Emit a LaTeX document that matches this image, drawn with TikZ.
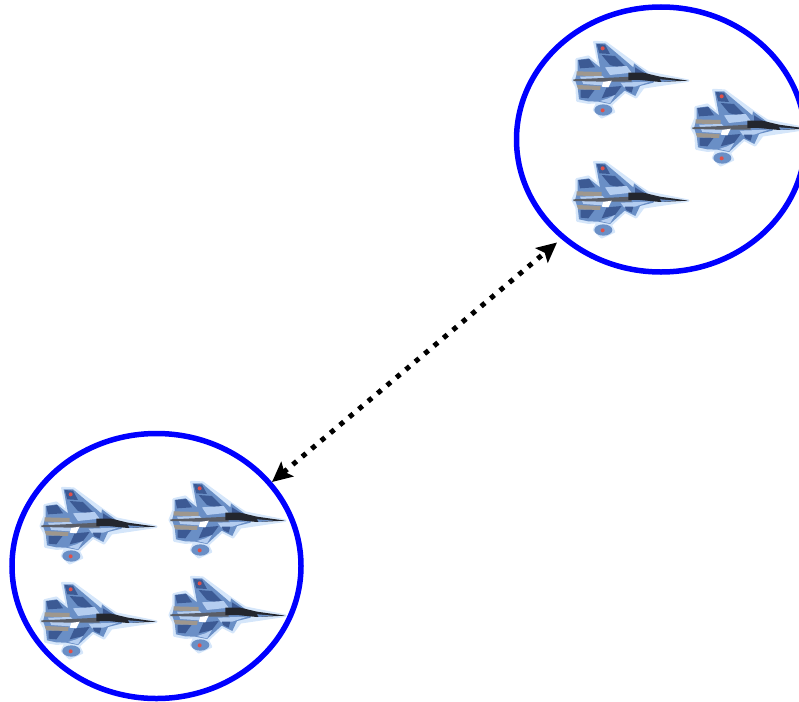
\documentclass[tikz,border=0pt]{standalone}
\usetikzlibrary{shapes.geometric,arrows.meta,calc}
\definecolor{halo}{HTML}{D5E6FA}
\definecolor{midb}{HTML}{6A8FC6}
\definecolor{darkb}{HTML}{3C5A94}
\definecolor{lightb}{HTML}{B4CDF0}
\definecolor{jet}{HTML}{23262E}
\definecolor{gry}{HTML}{5A5E68}
\definecolor{tan1}{HTML}{9E978E}
\definecolor{redd}{HTML}{E0504A}
\tikzset{
 group/.style={draw=blue,line width=5.5pt,ellipse,minimum width=289pt,minimum height=265pt,inner sep=0pt,outer sep=0pt},
 link/.style={line width=5pt,dash pattern=on 5pt off 7.3pt,{Stealth[length=20pt,width=19pt,inset=4pt]}-{Stealth[length=20pt,width=19pt,inset=4pt]}},
 plane/.pic={
  \begin{scope}[x=0.3333pt,y=-0.3333pt,line join=round]
   % halo
   \fill[halo,draw=halo,line width=2.5pt] (103,36)--(137,38)--(222,100)--(265,128)--(385,152)--(250,172)--(228,202)--(195,185)--(152,225)--(162,245)--(125,262)--(102,240)--(113,216)--(85,218)--(52,212)--(50,172)--(38,150)--(50,120)--(50,88)--(85,80)--(118,108)--cycle;
   % main body
   \fill[midb] (107,40)--(135,40)--(220,112)--(222,100)--(262,130)--(290,145)--(280,158)--(240,168)--(226,198)--(194,182)--(150,222)--(115,215)--(85,214)--(57,208)--(53,172)--(45,150)--(53,122)--(53,90)--(86,85)--(120,112)--cycle;
   \fill[midb] (130,240) ellipse (27 and 17);
   % camouflage
   \fill[darkb] (110,42)--(135,44)--(150,72)--(118,70)--cycle;
   \fill[darkb] (125,75)--(165,78)--(208,122)--(150,105)--cycle;
   \fill[darkb] (55,90)--(88,87)--(105,112)--(60,115)--cycle;
   \fill[lightb] (135,112)--(200,108)--(215,128)--(150,135)--cycle;
   \fill[darkb] (140,172)--(185,168)--(165,195)--(125,205)--cycle;
   \fill[lightb] (182,158)--(270,155)--(225,170)--(192,172)--cycle;
   \fill[lightb] (145,205)--(165,195)--(150,220)--(120,213)--cycle;
   \fill[darkb] (62,180)--(105,178)--(85,205)--(62,203)--cycle;
   \fill[darkb] (195,170)--(220,170)--(215,188)--(198,180)--cycle;
   \fill[darkb] (225,112)--(262,135)--(225,135)--cycle;
   \fill[lightb] (60,140)--(128,138)--(150,160)--(125,166)--(70,162)--cycle;
   % fuselage
   \fill[gry] (40,148)--(130,144)--(215,140)--(215,155)--(130,155)--(40,153)--cycle;
   \fill[jet] (205,128)--(250,128)--(300,140)--(385,152)--(300,156)--(240,150)--(205,150)--cycle;
   \fill[midb] (300,148)--(350,152)--(305,156)--cycle;
   % nozzles
   \fill[tan1] (50,124)--(125,126)--(125,138)--(50,137)--cycle;
   \fill[tan1] (50,165)--(122,168)--(120,180)--(55,178)--cycle;
   \fill[white] (130,156)--(155,152)--(145,172)--(125,170)--cycle;
   % red marks
   \fill[redd] (128,55) circle (6);
   \fill[redd] (128,241) circle (6);
  \end{scope}}
}
\begin{document}
\begin{tikzpicture}[x=1pt,y=-1pt]
\useasboundingbox (0,0) rectangle (799,701);
\node[group] (top) at (661,139.5) {};
\node[group] (bottom) at (156.5,566) {};
\path (560,30) pic {plane};
\path (679,78) pic {plane};
\path (560,150) pic {plane};
\path (28,476) pic {plane};
\path (157,470) pic {plane};
\path (28,571) pic {plane};
\path (157,565) pic {plane};
\coordinate (tipTop) at ($(top.center)+(-104,103)$);
\coordinate (tipBottom) at ($(bottom.center)+(115.5,-84)$);
\draw[link] (tipBottom) -- (tipTop);
\end{tikzpicture}
\end{document}
